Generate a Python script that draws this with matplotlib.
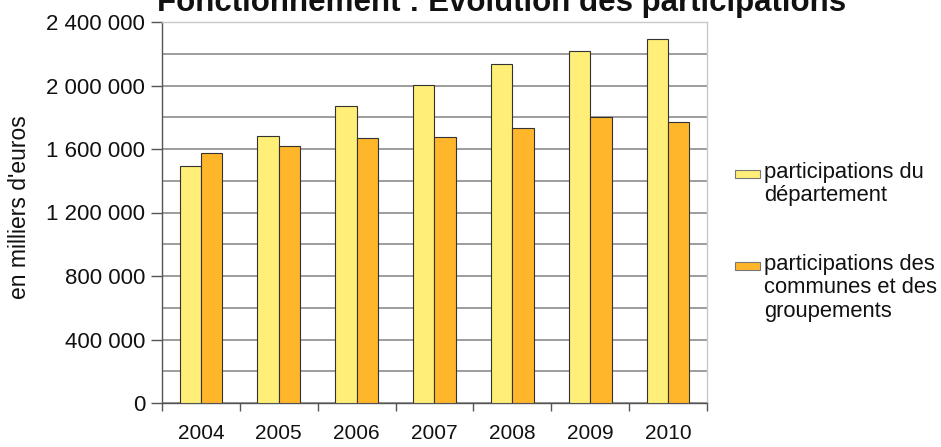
import matplotlib
matplotlib.use("Agg")
import matplotlib.pyplot as plt
from matplotlib.patches import Rectangle
from matplotlib.ticker import FuncFormatter, MultipleLocator, FixedLocator
import numpy as np

plt.rcParams['font.family'] = ['Liberation Sans', 'DejaVu Sans']

# data (en milliers d'euros)
years = ['2004', '2005', '2006', '2007', '2008', '2009', '2010']
dept = [1494000, 1685000, 1870000, 2002000, 2134000, 2220000, 2293000]
communes = [1574000, 1620000, 1668000, 1676000, 1731000, 1800000, 1771000]
labels = ['participations du\ndépartement',
          'participations des\ncommunes et des\ngroupements']
colors = ['#FFEE77', '#FFB62A']
title = "Fonctionnement : Évolution des participations"
ylabel = "en milliers d'euros"

W, H = 941, 447
fig = plt.figure(figsize=(W / 100, H / 100), dpi=100)
ax = fig.add_axes([162 / W, 1 - 403 / H, (707 - 162) / W, (403 - 22) / H])

x = np.arange(len(years))
bw = 0.275
ax.bar(x - bw / 2, dept, bw, color=colors[0], edgecolor='#333333', linewidth=0.8, zorder=3)
ax.bar(x + bw / 2, communes, bw, color=colors[1], edgecolor='#333333', linewidth=0.8, zorder=3)

ax.set_xlim(-0.5, len(years) - 0.5)
ax.set_ylim(0, 2400000)

# y axis: labels every 400 000, grid every 200 000
ax.yaxis.set_major_locator(MultipleLocator(400000))
ax.yaxis.set_minor_locator(MultipleLocator(200000))
ax.yaxis.set_major_formatter(FuncFormatter(lambda v, p: '{:,.0f}'.format(v).replace(',', ' ')))
ax.grid(True, which='both', axis='y', color='#8c8c8c', linewidth=1.2, zorder=0)
ax.tick_params(axis='y', which='major', length=8, width=1, color='#555555',
               labelsize=16, pad=4, labelcolor='#111111')
ax.tick_params(axis='y', which='minor', length=0)

# x axis: ticks between categories, labels at centres
ax.xaxis.set_major_locator(FixedLocator(np.arange(len(years) + 1) - 0.5))
ax.xaxis.set_major_formatter(FuncFormatter(lambda v, p: ''))
ax.xaxis.set_minor_locator(FixedLocator(x))
ax.set_xticklabels(years, minor=True)
ax.tick_params(axis='x', which='major', length=6, width=1, color='#555555', direction='out')
ax.tick_params(axis='x', which='minor', length=0, labelsize=15, pad=15, labelcolor='#111111')

for s in ['left', 'bottom']:
    ax.spines[s].set_color('#555555')
    ax.spines[s].set_linewidth(1)
for s in ['top', 'right']:
    ax.spines[s].set_color('#c8c8c8')
    ax.spines[s].set_linewidth(1)
ax.set_axisbelow(True)

fig.text(20 / W, 1 - 207 / H, ylabel, rotation=90, ha='center', va='center',
         fontsize=16.5, color='#111111')

# title, partly cut at the top as in the source
fig.text(502 / W, 1 - 11 / H, title, ha='center', va='baseline',
         fontsize=22.5, fontweight='bold', color='#111111')

# legend drawn by hand so that the patch sits on the first line
leg_y = [174, 266]
for lab, col, yy in zip(labels, colors, leg_y):
    fig.patches.append(Rectangle((735 / W, 1 - (yy + 4) / H), 25 / W, 8 / H,
                                 transform=fig.transFigure, facecolor=col,
                                 edgecolor='#777777', linewidth=0.8))
    fig.text(764 / W, 1 - (yy - 12) / H, lab, ha='left', va='top', fontsize=15.8,
             linespacing=1.15, color='#111111')

fig.savefig('out.png', dpi=100)
